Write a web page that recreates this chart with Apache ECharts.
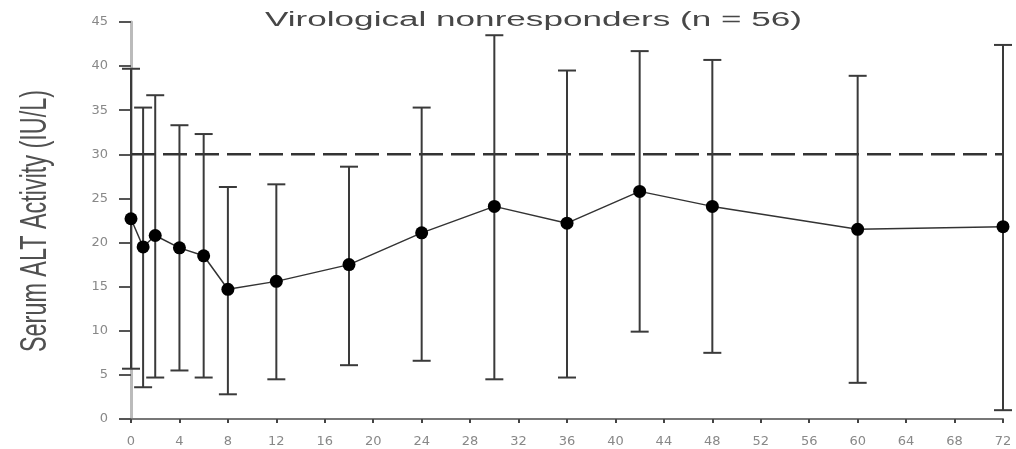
<!DOCTYPE html>
<html>
<head>
<meta charset="utf-8">
<script src="https://cdn.jsdelivr.net/npm/echarts@6/dist/echarts.min.js"></script>
<style>html,body{margin:0;padding:0;background:#fff;}#c{width:1016px;height:449px;}</style>
</head>
<body>
<div id="c"></div>
<script>
var weeks = [0, 1, 2, 4, 6, 8, 12, 18, 24, 30, 36, 42, 48, 60, 72];
var meanALT = [22.7, 19.5, 20.8, 19.4, 18.5, 14.7, 15.6, 17.5, 21.1, 24.1, 22.2, 25.8, 24.1, 21.5, 21.8];
var upperALT = [39.7, 35.3, 36.7, 33.3, 32.3, 26.3, 26.6, 28.6, 35.3, 43.5, 39.5, 41.7, 40.7, 38.9, 42.4];
var lowerALT = [5.7, 3.6, 4.7, 5.5, 4.7, 2.8, 4.5, 6.1, 6.6, 4.5, 4.7, 9.9, 7.5, 4.1, 1.0];
var referenceLimit = 30;
var xTicks = [0, 4, 8, 12, 16, 20, 24, 28, 32, 36, 40, 44, 48, 52, 56, 60, 64, 68, 72];
var titleText = 'Virological nonresponders (n = 56)';
var yAxisTitle = 'Serum ALT Activity (IU/L)';

function textWidth(txt, font) {
  var ctx = document.createElement('canvas').getContext('2d');
  ctx.font = font;
  return ctx.measureText(txt).width;
}

var titleFont = 'normal 20px "Liberation Sans"';
var titleScale = 537 / textWidth(titleText, titleFont);
var yNameFont = 'normal 37px "Liberation Sans"';
var yNameScale = 262 / textWidth(yAxisTitle, yNameFont);

var chart = echarts.init(document.getElementById('c'), null, {renderer: 'canvas'});
var errData = weeks.map(function (w, i) { return [w, lowerALT[i], upperALT[i]]; });
var lineData = weeks.map(function (w, i) { return [w, meanALT[i]]; });
var refData = [[xTicks[0], referenceLimit], [xTicks[xTicks.length - 1], referenceLimit]];

chart.setOption({
  animation: false,
  grid: {left: 131, right: 13, top: 22, bottom: 30},
  graphic: [
    {
      type: 'text', x: 265, y: 20, scaleX: titleScale, z: 10,
      style: {text: titleText, font: titleFont, fill: '#474747', align: 'left', verticalAlign: 'middle'}
    },
    {
      type: 'text', x: 36, y: 221, rotation: Math.PI / 2, scaleX: yNameScale, z: 10,
      style: {text: yAxisTitle, font: yNameFont, fill: '#505050', align: 'center', verticalAlign: 'middle'}
    }
  ],
  xAxis: {
    type: 'value', min: 0, max: 72, interval: 4,
    axisLine: {lineStyle: {color: '#777', width: 2}},
    axisTick: {show: true, length: 4, lineStyle: {color: '#444', width: 2}},
    axisLabel: {color: '#888', fontFamily: 'DejaVu Sans', fontSize: 13, margin: 16,
      formatter: function (v) { return xTicks.indexOf(v) >= 0 ? String(v) : ''; }},
    splitLine: {show: false}
  },
  yAxis: {
    type: 'value', min: 0, max: 45, interval: 5,
    axisLine: {show: true, lineStyle: {color: '#bbb', width: 3}},
    axisTick: {show: true, length: 12, lineStyle: {color: '#555', width: 2}},
    axisLabel: {color: '#888', fontFamily: 'DejaVu Sans', fontSize: 13, margin: 23},
    splitLine: {show: false}
  },
  series: [
    {
      type: 'line', data: refData, symbol: 'none', silent: true,
      lineStyle: {color: '#333', width: 2.5, type: [24, 8]}, z: 1
    },
    {
      type: 'custom', data: errData, z: 2,
      renderItem: function (params, api) {
        var x = api.value(0);
        var lo = api.coord([x, api.value(1)]);
        var hi = api.coord([x, api.value(2)]);
        var hw = 9;
        var st = {stroke: '#3a3a3a', lineWidth: 2};
        return {type: 'group', children: [
          {type: 'line', shape: {x1: lo[0], y1: lo[1], x2: hi[0], y2: hi[1]}, style: st},
          {type: 'line', shape: {x1: lo[0] - hw, y1: lo[1], x2: lo[0] + hw, y2: lo[1]}, style: st},
          {type: 'line', shape: {x1: hi[0] - hw, y1: hi[1], x2: hi[0] + hw, y2: hi[1]}, style: st}
        ]};
      }
    },
    {
      type: 'line', data: lineData, symbol: 'circle', symbolSize: 13, z: 3,
      itemStyle: {color: '#000'},
      lineStyle: {color: '#333', width: 1.5}
    }
  ]
});
</script>
</body>
</html>
